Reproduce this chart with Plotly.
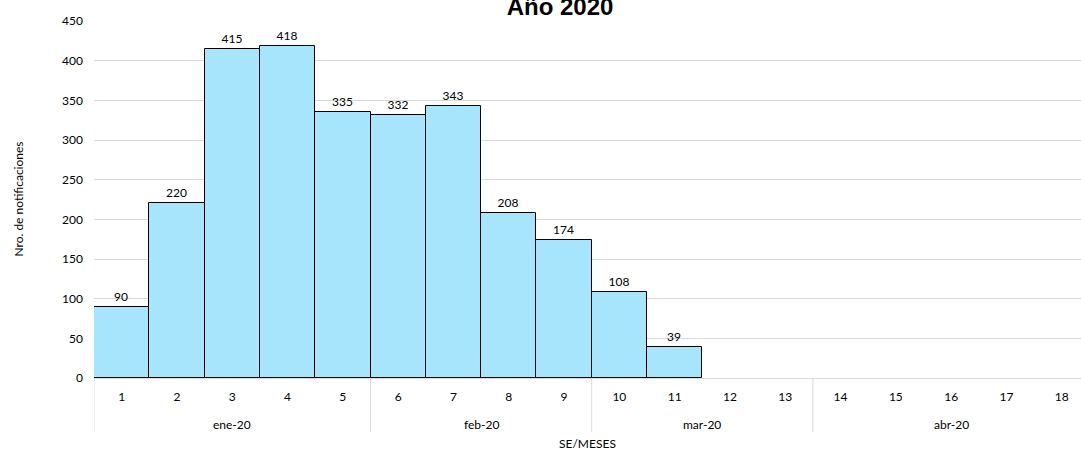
import plotly.graph_objects as go

weeks = [str(i) for i in range(1, 19)]
months = ["ene-20"] * 5 + ["feb-20"] * 4 + ["mar-20"] * 4 + ["abr-20"] * 5
notificaciones = [90, 220, 415, 418, 335, 332, 343, 208, 174, 108, 39,
                  None, None, None, None, None, None, None]
y_ticks = [0, 50, 100, 150, 200, 250, 300, 350, 400, 450]

labels = ["" if v is None else str(v) for v in notificaciones]

FONT = "Lato"
PLOT_H = 451 - 21 - 73  # pixel height of plot area
PLOT_W = 1081 - 94

fig = go.Figure(go.Bar(
    x=weeks,
    y=notificaciones,
    text=labels,
    textposition="outside",
    textfont=dict(size=12, color="#000000", family=FONT),
    cliponaxis=False,
    marker=dict(color="#A6E5FB", line=dict(color="#000000", width=1)),
))

# month groups -> label centres and divider positions (category indices)
groups = []
for i, m in enumerate(months):
    if not groups or groups[-1][0] != m:
        groups.append([m, i, i])
    else:
        groups[-1][2] = i

annotations = []
shapes = []
div_bottom = -(432 - 378) / PLOT_H
for m, a, b in groups:
    annotations.append(dict(
        x=(a + b) / 2, xref="x", y=-(424 - 378) / PLOT_H, yref="paper",
        text=m, showarrow=False, xanchor="center", yanchor="middle",
        font=dict(size=12, family=FONT, color="#000000")))
    shapes.append(dict(type="line", xref="x", yref="paper",
                       x0=a - 0.5, x1=a - 0.5, y0=0, y1=div_bottom,
                       line=dict(color="#d9d9d9", width=1)))
shapes.append(dict(type="line", xref="x", yref="paper",
                   x0=groups[-1][2] + 0.5, x1=groups[-1][2] + 0.5, y0=0, y1=div_bottom,
                   line=dict(color="#d9d9d9", width=1)))

annotations.append(dict(
    x=0.5, xref="paper", y=-(443 - 378) / PLOT_H, yref="paper",
    text="SE/MESES", showarrow=False, xanchor="center", yanchor="middle",
    font=dict(size=12, family=FONT, color="#000000")))
annotations.append(dict(
    x=-(94 - 18) / PLOT_W, xref="paper", y=0.5, yref="paper",
    text="Nro. de notificaciones", textangle=-90, showarrow=False,
    xanchor="center", yanchor="middle",
    font=dict(size=12, family=FONT, color="#000000")))

fig.update_layout(
    width=1081, height=451,
    margin=dict(l=94, r=0, t=21, b=73, autoexpand=False),
    paper_bgcolor="white", plot_bgcolor="white",
    bargap=0,
    showlegend=False,
    font=dict(family=FONT, size=12, color="#000000"),
    title=dict(text="<b>Año 2020</b>", x=560 / 1081, xref="container", xanchor="center",
               y=1 - 15 / 451, yref="container", yanchor="bottom",
               font=dict(family="Liberation Sans", size=24, color="#000000")),
    annotations=annotations,
    shapes=shapes,
)

fig.update_xaxes(
    type="category",
    range=[-0.5, -0.5 + PLOT_W / 55.3],
    automargin=False,
    showgrid=False,
    showline=True, linecolor="#d9d9d9", linewidth=1,
    ticks="",
    ticklabelstandoff=8,
    tickfont=dict(size=12, family=FONT),
)

fig.update_yaxes(
    range=[0, 450],
    tickvals=y_ticks,
    automargin=False,
    showgrid=True, gridcolor="#d9d9d9", gridwidth=1,
    zeroline=False,
    ticks="",
    ticklabelstandoff=10,
    tickfont=dict(size=12, family=FONT),
)

fig.write_html("out.html",
               config={"displayModeBar": False},
               post_script="document.body.style.margin='0';document.body.style.overflow='hidden';")
